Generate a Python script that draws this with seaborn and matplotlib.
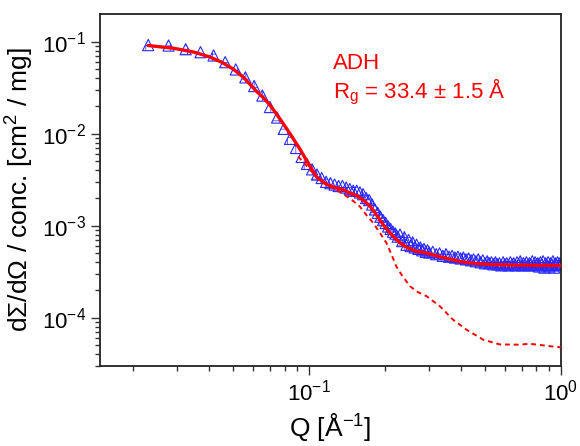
import matplotlib
matplotlib.use("Agg")
import matplotlib.pyplot as plt
import seaborn as sns
import pandas as pd

# measured SANS data (triangles)
q_data = [0.0230, 0.0277, 0.0324, 0.0371, 0.0418, 0.0465, 0.0512, 0.0559, 0.0606, 0.0653,
          0.0700, 0.0747, 0.0794, 0.0841, 0.0888, 0.0935, 0.0982, 0.1029, 0.1076, 0.1123,
          0.1170, 0.1217, 0.1264, 0.1311, 0.1358, 0.1405, 0.1452, 0.1499, 0.1546, 0.1593,
          0.1640, 0.1687, 0.1734, 0.1781, 0.1828, 0.1875, 0.1922, 0.1969, 0.2016, 0.2063,
          0.2110, 0.2157, 0.2204, 0.2251, 0.2298, 0.2345, 0.2392, 0.2439, 0.2486, 0.2533,
          0.2580, 0.2627, 0.2674, 0.2721, 0.2768, 0.2815, 0.2862, 0.2909, 0.2956, 0.3003,
          0.31, 0.32, 0.33, 0.34, 0.35, 0.36, 0.37, 0.38, 0.39, 0.40,
          0.41, 0.42, 0.43, 0.44, 0.45, 0.46, 0.47, 0.48, 0.49, 0.50,
          0.51, 0.52, 0.53, 0.54, 0.55, 0.56, 0.57, 0.58, 0.59, 0.60,
          0.61, 0.62, 0.63, 0.64, 0.65, 0.66, 0.67, 0.68, 0.69, 0.70,
          0.71, 0.72, 0.73, 0.74, 0.75, 0.76, 0.77, 0.78, 0.79, 0.80,
          0.81, 0.82, 0.83, 0.84, 0.85, 0.86, 0.87, 0.88, 0.89, 0.90,
          0.91, 0.92, 0.93, 0.94, 0.95, 0.96, 0.97, 0.98, 0.99, 1.00]
i_data = [0.092, 0.091, 0.083, 0.077, 0.071, 0.060, 0.050, 0.041, 0.033, 0.026,
          0.0195, 0.0150, 0.0113, 0.0088, 0.0070, 0.0056, 0.0047, 0.0041, 0.0036, 0.0033,
          0.0030, 0.0029, 0.0028, 0.0027, 0.0027, 0.0026, 0.0025, 0.0024, 0.0024, 0.0023,
          0.0022, 0.0020, 0.0019, 0.0017, 0.0015, 0.00138, 0.00125, 0.00115, 0.00107, 0.00098,
          0.00092, 0.00086, 0.00082, 0.00076, 0.00080, 0.00068, 0.00075, 0.00062, 0.00070, 0.00060,
          0.00066, 0.00058, 0.00062, 0.00056, 0.00058, 0.00054, 0.00056, 0.00052, 0.00054, 0.00051,
          0.00052, 0.00049, 0.00050, 0.00047, 0.00049, 0.00046, 0.00047, 0.00045, 0.00046, 0.00044,
          0.00045, 0.00043, 0.00044, 0.00042, 0.00043, 0.00041, 0.00043, 0.00040, 0.00042, 0.00039,
          0.00041, 0.00039, 0.00040, 0.00038, 0.00040, 0.00038, 0.00039, 0.00037, 0.00040, 0.00038,
          0.00039, 0.00037, 0.00040, 0.00038, 0.00039, 0.00037, 0.00040, 0.00038, 0.00041, 0.00037,
          0.00039, 0.00038, 0.00040, 0.00037, 0.00039, 0.00038, 0.00041, 0.00037, 0.00040, 0.00038,
          0.00039, 0.00036, 0.00040, 0.00038, 0.00041, 0.00035, 0.00039, 0.00037, 0.00040, 0.00036,
          0.00039, 0.00038, 0.00041, 0.00035, 0.00039, 0.00038, 0.00040, 0.00037, 0.00039, 0.00038]

# model fit (solid)
q_fit = [0.023, 0.029, 0.035, 0.040, 0.045, 0.050, 0.055, 0.062, 0.066, 0.070,
         0.0767, 0.0841, 0.0921, 0.101, 0.107, 0.1176, 0.127, 0.137, 0.1455, 0.155,
         0.165, 0.175, 0.183, 0.191, 0.200, 0.210, 0.220, 0.230, 0.240, 0.248,
         0.265, 0.293, 0.330, 0.397, 0.450, 0.537, 0.650, 0.800, 1.0]
i_fit = [0.091, 0.085, 0.077, 0.069, 0.060, 0.0505, 0.041, 0.0288, 0.0245, 0.0205,
         0.0145, 0.0100, 0.0068, 0.0044, 0.0034, 0.0028, 0.0026, 0.00246, 0.00226, 0.00212,
         0.00188, 0.00162, 0.00138, 0.00116, 0.00097, 0.00083, 0.00073, 0.00065, 0.00060, 0.00057,
         0.00053, 0.000505, 0.00046, 0.000409, 0.00039, 0.000377, 0.000373, 0.000371, 0.00037]

# model without background (dashed)
q_nobg = [0.0905, 0.100, 0.110, 0.120, 0.130, 0.141, 0.150, 0.159, 0.170, 0.180,
          0.192, 0.203, 0.213, 0.222, 0.234, 0.252, 0.270, 0.293, 0.331, 0.373,
          0.422, 0.492, 0.573, 0.688, 0.75, 0.824, 0.90, 1.0]
i_nobg = [0.00566, 0.0042, 0.0031, 0.0027, 0.0024, 0.00209, 0.00185, 0.00162, 0.00128, 0.00107,
          0.00082, 0.00065, 0.00048, 0.000362, 0.000288, 0.000219, 0.000190, 0.000171, 0.000133, 0.000095,
          0.000074, 0.0000575, 0.0000511, 0.0000508, 0.000052, 0.0000505, 0.000049, 0.0000475]

sns.set_style("ticks")
plt.rcParams['font.family'] = ['Liberation Sans', 'DejaVu Sans']
plt.rcParams['mathtext.default'] = 'regular'
plt.rcParams['hatch.linewidth'] = 0.5
plt.rcParams['hatch.color'] = '#2a2aff'
for key in ['text.color', 'axes.labelcolor', 'xtick.color', 'ytick.color']:
    plt.rcParams[key] = 'black'

data_df = pd.DataFrame({'Q': q_data, 'I': i_data})
fit_df = pd.DataFrame({'Q': q_fit, 'I': i_fit})
nobg_df = pd.DataFrame({'Q': q_nobg, 'I': i_nobg})

fig, ax = plt.subplots(figsize=(5.8, 4.46), dpi=100)
fig.subplots_adjust(left=0.172, right=0.967, top=0.968, bottom=0.18)

sns.scatterplot(data=data_df, x='Q', y='I', marker='^', s=65, facecolor='none',
                edgecolor='#2a2aff', linewidth=0.8, hatch='++', ax=ax, zorder=2)
sns.lineplot(data=nobg_df, x='Q', y='I', color='red', lw=1.4, ax=ax,
             linestyle=(0, (2.5, 2)), zorder=3)
sns.lineplot(data=fit_df, x='Q', y='I', color='red', lw=2.4, ax=ax, zorder=4)

ax.set_xscale('log')
ax.set_yscale('log')
ax.set_xlim(0.01477, 1.0)
ax.set_ylim(3.0e-5, 0.199)

ax.set_xlabel('Q [Å$^{-1}$]', fontsize=19)
ax.set_ylabel('dΣ/dΩ / conc. [cm$^2$ / mg]', fontsize=19)

ax.tick_params(which='major', direction='out', length=6.5, width=1, labelsize=16, color='#333333')
ax.tick_params(which='minor', direction='out', length=3.5, width=1, color='#333333')
for sp in ax.spines.values():
    sp.set_linewidth(1.3)
    sp.set_color('#222222')

ax.text(0.506, 0.844, 'ADH', transform=ax.transAxes, color='red', fontsize=16, va='baseline')
ax.text(0.506, 0.762, 'R$_g$ = 33.4 ± 1.5 Å', transform=ax.transAxes, color='red',
        fontsize=16, va='baseline')

fig.savefig('out.png', dpi=100)
